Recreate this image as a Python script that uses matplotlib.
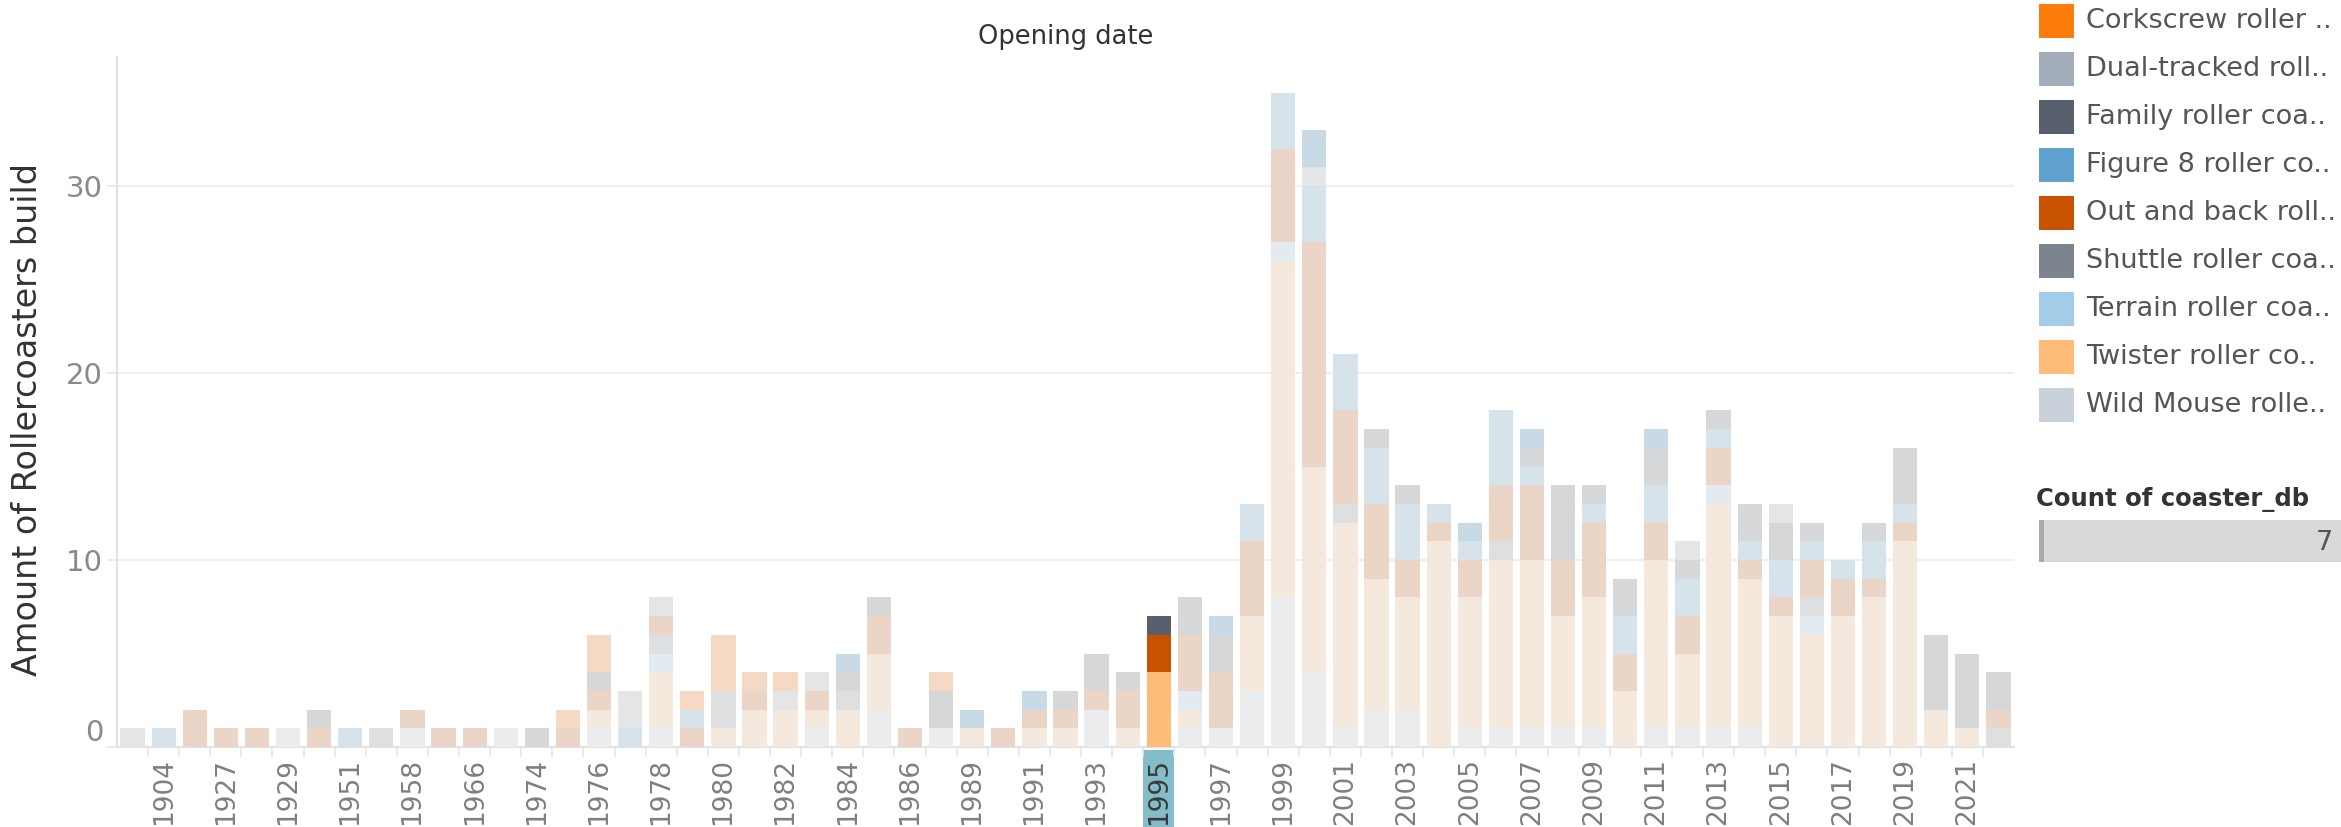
import matplotlib
matplotlib.use("Agg")
import matplotlib.pyplot as plt
from matplotlib.patches import Rectangle
import matplotlib.transforms as mtransforms
import numpy as np

# ---------------- data ----------------
years = [1902, 1904, 1925, 1927, 1928, 1929, 1950, 1951, 1956, 1958,
         1964, 1966, 1972, 1974, 1975, 1976, 1977, 1978, 1979, 1980,
         1981, 1982, 1983, 1984, 1985, 1986, 1988, 1989, 1990, 1991,
         1992, 1993, 1994, 1995, 1996, 1997, 1998, 1999, 2000, 2001,
         2002, 2003, 2004, 2005, 2006, 2007, 2008, 2009, 2010, 2011,
         2012, 2013, 2014, 2015, 2016, 2017, 2018, 2019, 2020, 2021, 2022]

wild_mouse = [0,0,0,0,0,1,0,0,0,1, 0,0,1,0,0,1,0,1,0,0, 0,0,1,0,2,0,1,0,0,0,
              0,2,0,0,1,1,3,8,4,1, 2,2,0,1,1,1,1,1,0,1, 1,1,1,0,0,0,0,0,0,0, 0]
twister = [0,0,0,0,0,0,0,0,0,0, 0,0,0,0,0,1,0,3,0,1, 2,2,1,2,3,0,0,1,0,1,
           1,0,1,4,1,0,4,18,11,11, 7,6,11,7,9,9,6,7,3,9, 4,12,8,7,6,7,8,11,2,1, 0]
terrain = [0,0,0,0,0,0,0,0,0,0, 0,0,0,0,0,0,0,1,0,0, 0,0,0,0,0,0,0,0,0,0,
           0,0,0,0,1,0,0,1,0,0, 0,0,0,0,0,0,0,0,0,0, 0,1,0,0,1,0,0,0,0,0, 0]
shuttle = [0,0,0,0,0,0,0,0,1,0, 0,0,0,0,0,0,0,1,0,2, 0,0,0,1,0,0,0,0,0,0,
           0,0,0,0,0,0,0,0,0,1, 0,0,0,0,1,0,0,0,0,0, 0,0,0,0,1,0,0,0,0,0, 1]
out_and_back = [0,0,2,1,1,0,1,0,0,1, 1,1,0,0,1,1,0,1,1,0, 1,0,1,0,2,1,0,0,1,1,
                1,1,2,2,3,3,4,5,12,5, 4,2,1,2,3,4,3,4,2,2, 2,2,1,1,2,2,1,1,0,0, 1]
figure8 = [0,1,0,0,0,0,0,1,0,0, 0,0,0,0,0,0,1,0,1,0, 0,0,0,0,0,0,0,0,0,0,
           0,0,0,0,0,0,2,3,3,3, 3,3,1,1,4,1,0,1,2,2, 2,1,1,2,1,1,2,1,0,0, 0]
family = [0,0,0,0,0,0,1,0,0,0, 0,0,0,1,0,1,0,0,0,0, 0,0,0,1,1,0,2,0,0,0,
          1,2,1,1,2,2,0,0,0,0, 1,1,0,0,0,1,4,1,2,2, 1,1,2,2,1,0,1,3,4,4, 2]
dual_tracked = [1,0,0,0,0,0,0,0,0,0, 0,0,0,0,0,0,2,1,0,0, 0,1,1,0,0,0,0,0,0,0,
                0,0,0,0,0,0,0,0,1,0, 0,0,0,0,0,0,0,0,0,0, 1,0,0,1,0,0,0,0,0,0, 0]
corkscrew = [0,0,0,0,0,0,0,0,0,0, 0,0,0,0,1,2,0,0,1,3, 1,1,0,0,0,0,1,0,0,0,
             0,0,0,0,0,0,0,0,0,0, 0,0,0,0,0,0,0,0,0,0, 0,0,0,0,0,0,0,0,0,0, 0]
# first legend entry (scrolled out of view in the legend)
other_type = [0,0,0,0,0,0,0,0,0,0, 0,0,0,0,0,0,0,0,0,0, 0,0,0,1,0,0,0,1,0,1,
              0,0,0,0,0,1,0,0,2,0, 0,0,0,1,0,1,0,0,0,1, 0,0,0,0,0,0,0,0,0,0, 0]

highlight_year = 1995

# stacking order, bottom -> top
stack = [
    ("Wild Mouse roller coaster", wild_mouse, "#c8d0d9", "#ebeced"),
    ("Twister roller coaster", twister, "#ffbc79", "#f5e9de"),
    ("Terrain roller coaster", terrain, "#a3cce9", "#e3eaf0"),
    ("Shuttle roller coaster", shuttle, "#7b848f", "#dedfe1"),
    ("Out and back roller coaster", out_and_back, "#c85200", "#ebd5c7"),
    ("Figure 8 roller coaster", figure8, "#5fa2ce", "#d7e3eb"),
    ("Family roller coaster", family, "#57606c", "#d6d7d9"),
    ("Dual-tracked roller coaster", dual_tracked, "#a3acb9", "#e4e5e6"),
    ("Corkscrew roller coaster", corkscrew, "#fc7d0b", "#f5d9c5"),
    ("Other", other_type, "#1170aa", "#c8dae5"),
]

legend_labels = ["Corkscrew roller ..", "Dual-tracked roll..", "Family roller coa..",
                 "Figure 8 roller co..", "Out and back roll..", "Shuttle roller coa..",
                 "Terrain roller coa..", "Twister roller co..", "Wild Mouse rolle.."]
legend_colors = ["#fc7d0b", "#a3acb9", "#57606c", "#5fa2ce", "#c85200",
                 "#7b848f", "#a3cce9", "#ffbc79", "#c8d0d9"]

filter_title = "Count of coaster_db"
filter_value = "7"

# ---------------- figure ----------------
W, H = 2341, 827
fig = plt.figure(figsize=(W / 100, H / 100), dpi=100)
fig.patch.set_facecolor("white")

def fx(px):
    return px / W

def fy(py):
    return 1 - py / H

ax_l, ax_r, ax_t, ax_b = 117, 2014, 57, 747
ax = fig.add_axes([fx(ax_l), fy(ax_b), (ax_r - ax_l) / W, (ax_b - ax_t) / H])

x = np.arange(len(years))
bottom = np.zeros(len(years))
for name, vals, full, faded in stack:
    vals = np.array(vals, dtype=float)
    cols = [full if y == highlight_year else faded for y in years]
    ax.bar(x, vals, bottom=bottom, width=0.78, color=cols, linewidth=0, zorder=3)
    bottom += vals

ax.set_xlim(-0.5, len(years) - 0.5)
ax.set_ylim(0, 36.9)

for s in ["top", "right"]:
    ax.spines[s].set_visible(False)
ax.spines["left"].set_color("#e3e3e3")
ax.spines["left"].set_linewidth(1.5)
ax.spines["bottom"].set_color("#e3e3e3")
ax.spines["bottom"].set_linewidth(1.5)

ax.set_yticks([0, 10, 20, 30])
ax.set_yticklabels(["0", "10", "20", "30"])
ax.tick_params(axis="y", length=7, width=1.2, color="#e6e6e6", pad=3,
               labelsize=21, labelcolor="#8a8a8a")
for lab in ax.get_yticklabels():
    lab.set_fontfamily(["Liberation Sans Narrow", "DejaVu Sans"])
ax.get_yticklabels()[0].set_verticalalignment("bottom")
ax.yaxis.grid(True, color="#efefef", linewidth=1.6, zorder=0)
ax.set_axisbelow(True)

ax.set_xticks(x)
ax.set_xticklabels([str(y) if i % 2 == 1 else "" for i, y in enumerate(years)],
                   rotation=90, va="top", ha="center")
ax.tick_params(axis="x", length=0, pad=8, labelsize=19, labelcolor="#7f7f7f")
ax.set_xticks(x[:-1] + 0.5, minor=True)
ax.tick_params(axis="x", which="minor", length=7, width=1.2, color="#e6e6e6")

# highlighted header
hi = years.index(highlight_year)
trans = mtransforms.blended_transform_factory(ax.transData, ax.transAxes)
ax.add_patch(Rectangle((hi - 0.5, -0.2), 1.0, 0.195, transform=trans,
                       facecolor="#84bdca", edgecolor="none", clip_on=False, zorder=0))
for i, lab in enumerate(ax.get_xticklabels()):
    if i == hi:
        lab.set_color("#3a3a3a")

ax.set_ylabel("Amount of Rollercoasters build", fontsize=24, color="#333333")
ax.yaxis.set_label_coords((44 - ax_l) / (ax_r - ax_l), 0.474)

fig.text(fx(1066), fy(37), "Opening date", ha="center", va="center",
         fontsize=18.5, color="#333333")

# legend
for k, (lab, col) in enumerate(zip(legend_labels, legend_colors)):
    cy = 21 + 48 * k
    fig.patches.append(Rectangle((fx(2039), fy(cy + 17)), 35 / W, 34 / H,
                                 transform=fig.transFigure, facecolor=col,
                                 edgecolor="none"))
    fig.text(fx(2086), fy(cy), lab, ha="left", va="center", fontsize=19.5,
             color="#555555")

# filter card
fig.text(fx(2036), fy(500), filter_title, ha="left", va="center", fontsize=17.5,
         weight="bold", color="#333333")
fig.patches.append(Rectangle((fx(2039), fy(562)), (W - 2039) / W, 42 / H,
                             transform=fig.transFigure, facecolor="#d9d9d9",
                             edgecolor="none"))
fig.patches.append(Rectangle((fx(2039), fy(562)), 5 / W, 42 / H,
                             transform=fig.transFigure, facecolor="#a9a9a9",
                             edgecolor="none"))
fig.text(fx(2333), fy(543), filter_value, ha="right", va="center", fontsize=19.5,
         color="#555555")

fig.savefig("out.png", dpi=100)
